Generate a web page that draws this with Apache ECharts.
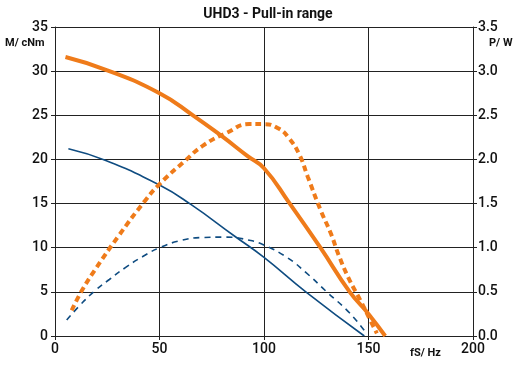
<!DOCTYPE html>
<html><head><meta charset="utf-8">
<script src="https://cdn.jsdelivr.net/npm/echarts@6/dist/echarts.min.js"></script>
<style>html,body{margin:0;padding:0;background:#fff}#c{width:518px;height:367px}</style>
</head><body><div id="c"></div>
<script>
const title = "UHD3 - Pull-in range";
const xTicks = [0, 50, 100, 150, 200];
const torqueTicks = [0, 5, 10, 15, 20, 25, 30, 35];
const powerTicks = [0, 0.5, 1, 1.5, 2, 2.5, 3, 3.5];
// Pull-in torque (cNm) vs frequency (Hz)
const torqueOrange = [[5,31.6],[25,30.1],[50,27.5],[66,25.0],[80,22.6],[92,20.4],[100,19.0],[112,15.1],[127,10.0],[141,5.0],[150,2.5],[158,0]];
const torqueBlue = [[6.4,21.2],[24,19.9],[50,17.1],[65,14.9],[86,11.3],[100,8.9],[120,5.0],[148,0]];
// Power (W) vs frequency (Hz)
const powerOrange = [[8,0.29],[13,0.52],[20,0.78],[30,1.12],[43,1.53],[50,1.72],[62,1.98],[71,2.16],[82,2.30],[93,2.40],[100,2.40],[107,2.35],[112,2.24],[117,2.05],[121,1.80],[127,1.43],[132,1.16],[136,0.90],[141,0.63],[146,0.41],[150,0.22],[154,0.03]];
const powerBlue = [[5.6,0.18],[12,0.35],[19,0.51],[26,0.64],[34,0.78],[42,0.90],[50,1.0],[60,1.08],[70,1.115],[82,1.12],[93,1.085],[100,1.03],[111,0.89],[120,0.72],[130,0.50],[141,0.26],[149,0.03]];

const ORANGE = '#EF7B1A', BLUE = '#0F4C81';
const FONT = 'Roboto';
const chart = echarts.init(document.getElementById('c'), null, {renderer:'canvas'});
chart.setOption({
  animation:false,
  title:{text:title,left:263,top:2,textAlign:'center',textStyle:{fontFamily:FONT,fontSize:14,fontWeight:'bold',color:'#111'}},
  grid:{left:55,right:45,top:27,bottom:31},
  xAxis:{type:'value',min:xTicks[0],max:xTicks[xTicks.length-1],interval:50,
    axisLine:{show:true,lineStyle:{color:'#222',width:1}},
    axisTick:{show:true,length:4,lineStyle:{color:'#222'}},
    axisLabel:{fontFamily:FONT,fontSize:14,fontWeight:500,color:'#111',margin:6},
    splitLine:{show:true,lineStyle:{color:'#222',width:1}}},
  yAxis:[
    {type:'value',min:torqueTicks[0],max:torqueTicks[torqueTicks.length-1],interval:5,position:'left',
     axisLine:{show:true,lineStyle:{color:'#222'}},
     axisTick:{show:true,length:4,lineStyle:{color:'#222'}},
     axisLabel:{fontFamily:FONT,fontSize:14,fontWeight:500,color:'#111',margin:7},
     splitLine:{show:true,lineStyle:{color:'#222',width:1}}},
    {type:'value',min:powerTicks[0],max:powerTicks[powerTicks.length-1],interval:0.5,position:'right',
     axisLine:{show:true,lineStyle:{color:'#222'}},
     axisTick:{show:true,length:4,lineStyle:{color:'#222'}},
     axisLabel:{fontFamily:FONT,fontSize:14,fontWeight:500,color:'#111',margin:5,formatter:v=>v.toFixed(1)},
     splitLine:{show:false}}
  ],
  graphic:[
    {type:'text',left:5,top:38,style:{text:'M/ cNm',font:'bold 11px Roboto',fill:'#111'}},
    {type:'text',left:489,top:38,style:{text:'P/ W',font:'bold 11px Roboto',fill:'#111'}},
    {type:'text',left:410,top:348,style:{text:'fS/ Hz',font:'bold 11px Roboto',fill:'#111'}}
  ],
  series:[
    {type:'line',yAxisIndex:0,data:torqueOrange,smooth:0.5,showSymbol:false,lineStyle:{color:ORANGE,width:4},z:5},
    {type:'line',yAxisIndex:0,data:torqueBlue,smooth:0.5,showSymbol:false,lineStyle:{color:BLUE,width:1.6},z:4},
    {type:'line',yAxisIndex:1,data:powerOrange,smooth:0.5,showSymbol:false,lineStyle:{color:ORANGE,width:4,type:[6,4]},z:5},
    {type:'line',yAxisIndex:1,data:powerBlue,smooth:0.5,showSymbol:false,lineStyle:{color:BLUE,width:1.6,type:[6,5]},z:4}
  ]
});
</script></body></html>
